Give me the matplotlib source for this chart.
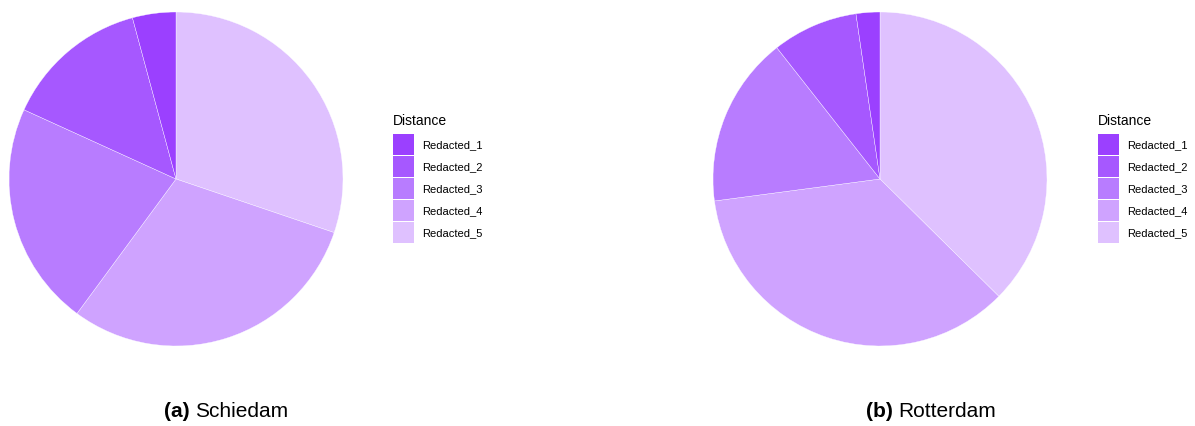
import matplotlib
matplotlib.use("Agg")
import matplotlib.pyplot as plt
from matplotlib.patches import Rectangle

plt.rcParams['font.family'] = ['Liberation Sans', 'DejaVu Sans']

categories = ["Redacted_1", "Redacted_2", "Redacted_3", "Redacted_4", "Redacted_5"]
schiedam = [0.042, 0.140, 0.217, 0.299, 0.302]
rotterdam = [0.023, 0.083, 0.165, 0.355, 0.374]
colors = ["#9B40FF", "#A658FF", "#B87CFF", "#CFA3FF", "#DFC1FF"]
captions = [("(a)", "Schiedam"), ("(b)", "Rotterdam")]
legend_title = "Distance"

W, H = 1195, 427
fig = plt.figure(figsize=(W / 100, H / 100), dpi=100)

def px(x, y):
    return x / W, 1 - y / H

centers = [(176, 180), (880, 180)]
legend_x = [393, 1098]
caption_x = [226, 931]
R = 167

cap_texts = []
for i, vals in enumerate([schiedam, rotterdam]):
    cx, cy = centers[i]
    ax = fig.add_axes([(cx - R) / W, (H - cy - R) / H, 2 * R / W, 2 * R / H])
    ax.pie(vals[::-1], colors=colors[::-1], startangle=90, counterclock=False,
           radius=1, wedgeprops=dict(edgecolor='white', linewidth=0.25))
    ax.set_xlim(-1, 1)
    ax.set_ylim(-1, 1)
    ax.set_aspect('equal')
    ax.axis('off')

    lx = legend_x[i]
    fig.text(*px(lx, 121), legend_title, fontsize=10, va='center', ha='left')
    for k, (cat, col) in enumerate(zip(categories, colors)):
        top = 135 + 22 * k
        x0, y0 = px(lx, top + 21)
        fig.add_artist(Rectangle((x0, y0), 21 / W, 21 / H, transform=fig.transFigure,
                                 facecolor=col, edgecolor='none'))
        fig.text(*px(lx + 29, top + 10.5), cat, fontsize=8, va='center', ha='left')

    tag, name = captions[i]
    t1 = fig.text(*px(caption_x[i], 412), tag + " ", fontsize=15, fontweight='bold',
                  va='center', ha='left')
    t2 = fig.text(*px(caption_x[i], 412), name, fontsize=15, va='center', ha='left')
    cap_texts.append((i, t1, t2))

fig.canvas.draw()
r = fig.canvas.get_renderer()
for i, t1, t2 in cap_texts:
    w1 = t1.get_window_extent(r).width
    w2 = t2.get_window_extent(r).width
    start = caption_x[i] - (w1 + w2) / 2
    t1.set_x(start / W)
    t2.set_x((start + w1) / W)

fig.savefig("out.png", dpi=100, facecolor='white')
